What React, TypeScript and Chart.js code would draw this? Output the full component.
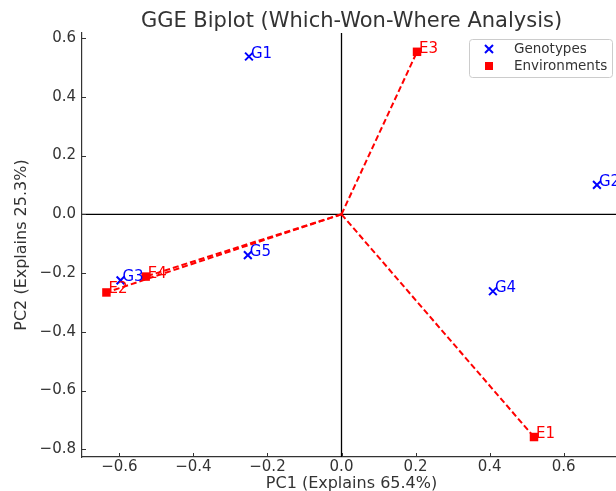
import React, { useEffect, useRef } from 'react';
import { Chart, registerables } from 'chart.js';

Chart.register(...registerables);

const genotypeNames = ['G1', 'G2', 'G3', 'G4', 'G5'];
const genotypePC1 = [-0.25, 0.69, -0.597, 0.409, -0.253];
const genotypePC2 = [0.537, 0.1, -0.225, -0.262, -0.139];

const environmentNames = ['E1', 'E2', 'E3', 'E4'];
const environmentPC1 = [0.52, -0.635, 0.204, -0.529];
const environmentPC2 = [-0.758, -0.266, 0.553, -0.212];

const xTicks = [-0.6, -0.4, -0.2, 0.0, 0.2, 0.4, 0.6];
const yTicks = [-0.8, -0.6, -0.4, -0.2, 0.0, 0.2, 0.4, 0.6];

const titleText = 'GGE Biplot (Which-Won-Where Analysis)';
const xTitle = 'PC1 (Explains 65.4%)';
const yTitle = 'PC2 (Explains 25.3%)';
const legendLabels = ['Genotypes', 'Environments'];

const FONT = '"DejaVu Sans", sans-serif';
const TEXT = '#333333';
const BLUE = '#0000ff';
const RED = '#ff0000';

const fmt = (v: number) => {
  const s = Math.abs(v).toFixed(1);
  return v < -1e-9 ? '\u2212' + s : s;
};

const overlay = {
  id: 'overlay',
  beforeDatasetsDraw(chart: any) {
    const { ctx, chartArea: a, scales } = chart;
    const x = scales.x, y = scales.y;
    ctx.save();
    const x0 = x.getPixelForValue(0);
    const y0 = y.getPixelForValue(0);
    ctx.strokeStyle = '#000000';
    ctx.lineWidth = 1.3;
    ctx.beginPath();
    ctx.moveTo(x0, a.top);
    ctx.lineTo(x0, a.bottom);
    ctx.moveTo(a.left, y0);
    ctx.lineTo(a.right, y0);
    ctx.stroke();
    ctx.strokeStyle = TEXT;
    ctx.lineWidth = 1;
    ctx.beginPath();
    xTicks.forEach((v) => {
      const px = Math.round(x.getPixelForValue(v)) + 0.5;
      ctx.moveTo(px, a.bottom);
      ctx.lineTo(px, a.bottom - 4);
    });
    yTicks.forEach((v) => {
      const py = Math.round(y.getPixelForValue(v)) + 0.5;
      ctx.moveTo(a.left, py);
      ctx.lineTo(a.left + 4, py);
    });
    ctx.stroke();
    ctx.restore();
  },
  afterDraw(chart: any) {
    const { ctx, chartArea: a, scales } = chart;
    const x = scales.x, y = scales.y;
    ctx.save();
    // point labels
    ctx.font = '15px ' + FONT;
    ctx.textAlign = 'left';
    ctx.textBaseline = 'alphabetic';
    genotypeNames.forEach((n, i) => {
      ctx.fillStyle = BLUE;
      ctx.fillText(n, x.getPixelForValue(genotypePC1[i]) + 2, y.getPixelForValue(genotypePC2[i]) + 1);
    });
    environmentNames.forEach((n, i) => {
      ctx.fillStyle = RED;
      ctx.fillText(n, x.getPixelForValue(environmentPC1[i]) + 2, y.getPixelForValue(environmentPC2[i]) + 1);
    });
    // title
    const cx = (a.left + a.right) / 2;
    ctx.fillStyle = TEXT;
    ctx.textAlign = 'center';
    ctx.font = '21px ' + FONT;
    ctx.fillText(titleText, cx, 27);
    // axis titles
    ctx.font = '16px ' + FONT;
    ctx.textBaseline = 'middle';
    ctx.fillText(xTitle, cx, 484);
    ctx.save();
    ctx.translate(22, (a.top + a.bottom) / 2);
    ctx.rotate(-Math.PI / 2);
    ctx.fillText(yTitle, 0, 0);
    ctx.restore();
    // legend
    const L = 469, T = 39, R = 612, B = 77;
    ctx.fillStyle = 'rgba(255,255,255,0.8)';
    ctx.strokeStyle = '#cccccc';
    ctx.lineWidth = 1;
    ctx.beginPath();
    (ctx as any).roundRect(L + 0.5, T + 0.5, R - L, B - T, 3);
    ctx.fill();
    ctx.stroke();
    const rows = [49, 66];
    const mx = 489;
    ctx.strokeStyle = BLUE;
    ctx.lineWidth = 2;
    ctx.beginPath();
    ctx.moveTo(mx - 4, rows[0] - 4);
    ctx.lineTo(mx + 4, rows[0] + 4);
    ctx.moveTo(mx + 4, rows[0] - 4);
    ctx.lineTo(mx - 4, rows[0] + 4);
    ctx.stroke();
    ctx.fillStyle = RED;
    ctx.fillRect(mx - 4, rows[1] - 4, 8, 8);
    ctx.fillStyle = TEXT;
    ctx.textAlign = 'left';
    ctx.font = '13.5px ' + FONT;
    legendLabels.forEach((t, i) => ctx.fillText(t, 514, rows[i]));
    ctx.restore();
  },
};

export default function App() {
  const ref = useRef<HTMLCanvasElement | null>(null);
  useEffect(() => {
    if (!ref.current) return;
    const lineSets = environmentNames.map((n, i) => ({
      type: 'scatter' as const,
      label: n + ' vector',
      data: [
        { x: 0, y: 0 },
        { x: environmentPC1[i], y: environmentPC2[i] },
      ],
      showLine: true,
      borderColor: RED,
      borderWidth: 2,
      borderDash: [6, 3],
      pointRadius: 0,
      fill: false,
    }));
    const chart = new Chart(ref.current, {
      type: 'scatter',
      data: {
        datasets: [
          ...lineSets,
          {
            label: 'Genotypes',
            data: genotypeNames.map((_, i) => ({ x: genotypePC1[i], y: genotypePC2[i] })),
            pointStyle: 'crossRot',
            pointRadius: 5.5,
            borderColor: BLUE,
            backgroundColor: BLUE,
            borderWidth: 2,
          },
          {
            label: 'Environments',
            data: environmentNames.map((_, i) => ({ x: environmentPC1[i], y: environmentPC2[i] })),
            pointStyle: 'rect',
            pointRadius: 6,
            borderColor: RED,
            backgroundColor: RED,
            borderWidth: 0,
          },
        ] as any,
      },
      options: {
        animation: false,
        responsive: false,
        devicePixelRatio: 1,
        layout: { padding: { top: 33, right: 19, left: 0, bottom: 0 } },
        plugins: {
          legend: { display: false },
          tooltip: { enabled: false },
          title: { display: false },
        },
        scales: {
          x: {
            type: 'linear',
            min: -0.701,
            max: 0.755,
            afterFit: (s: any) => { s.height = 34; },
            afterBuildTicks: (s: any) => { s.ticks = xTicks.map((v) => ({ value: v })); },
            grid: { display: false, drawTicks: false },
            border: { display: true, color: TEXT, width: 1.2 },
            ticks: {
              padding: 1,
              color: TEXT,
              font: { family: FONT, size: 15 },
              callback: (v: any) => fmt(Number(v)),
              maxRotation: 0,
              autoSkip: false,
            },
          },
          y: {
            type: 'linear',
            min: -0.826,
            max: 0.617,
            afterFit: (s: any) => { s.width = 82; },
            afterBuildTicks: (s: any) => { s.ticks = yTicks.map((v) => ({ value: v })); },
            grid: { display: false, drawTicks: false },
            border: { display: true, color: TEXT, width: 1.2 },
            ticks: {
              padding: 6,
              color: TEXT,
              font: { family: FONT, size: 15 },
              callback: (v: any) => fmt(Number(v)),
              autoSkip: false,
            },
          },
        },
      } as any,
      plugins: [overlay],
    });
    return () => chart.destroy();
  }, []);
  return (
    <div style={{ position: 'absolute', left: 0, top: 0, width: 616, height: 491, overflow: 'hidden', background: '#fff' }}>
      <canvas ref={ref} width={640} height={491} style={{ display: 'block' }} />
    </div>
  );
}
